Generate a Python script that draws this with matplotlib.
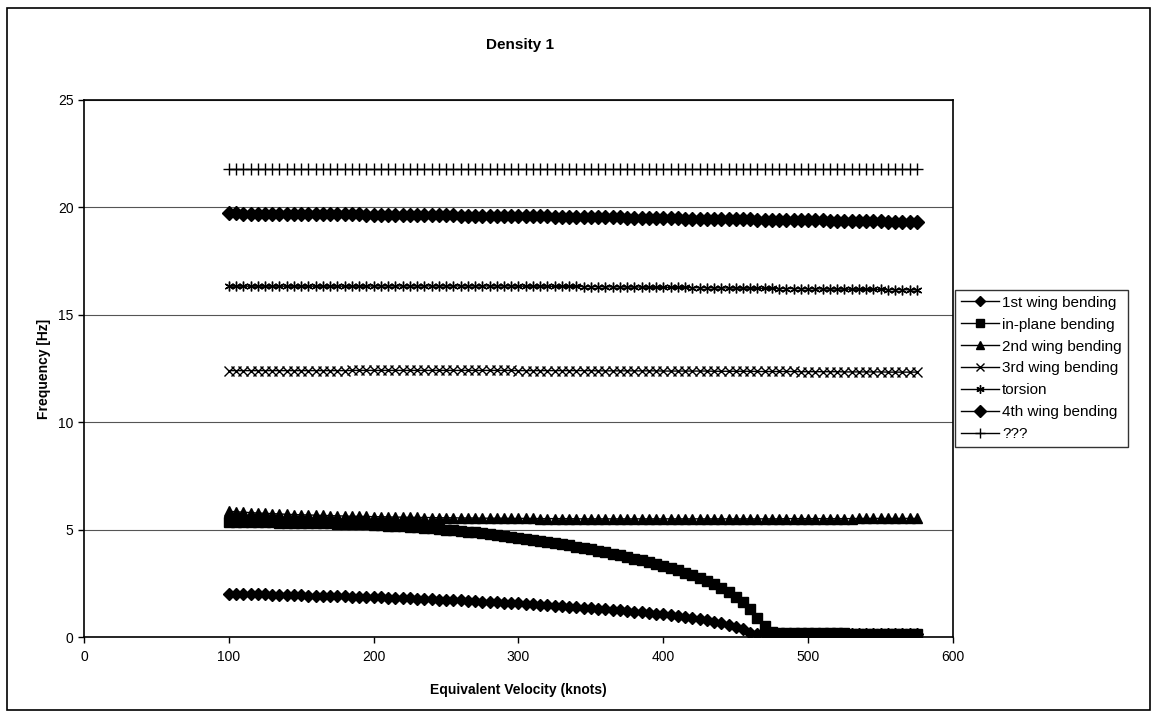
import numpy as np
import matplotlib
matplotlib.use("Agg")
import matplotlib.pyplot as plt
from matplotlib.patches import Rectangle

plt.rcParams['font.family'] = ['Liberation Sans', 'DejaVu Sans']

# velocities 100..575 knots, step 5
velocity = list(range(100, 580, 5))

first_wing = [2.00, 2.00, 1.99, 1.99, 1.98, 1.98, 1.97, 1.96, 1.96, 1.95,
              1.94, 1.93, 1.93, 1.92, 1.91, 1.90, 1.89, 1.88, 1.87, 1.86,
              1.85, 1.84, 1.83, 1.82, 1.81, 1.80, 1.78, 1.77, 1.76, 1.74,
              1.73, 1.71, 1.70, 1.68, 1.67, 1.65, 1.63, 1.62, 1.60, 1.58,
              1.56, 1.54, 1.52, 1.50, 1.48, 1.46, 1.44, 1.41, 1.39, 1.36,
              1.34, 1.31, 1.29, 1.26, 1.24, 1.21, 1.18, 1.15, 1.12, 1.09,
              1.05, 1.01, 0.97, 0.92, 0.88, 0.83, 0.78, 0.72, 0.66, 0.58,
              0.48, 0.35, 0.20, 0.12, 0.14, 0.15, 0.15, 0.15, 0.15, 0.15,
              0.15, 0.15, 0.14, 0.14, 0.14, 0.14, 0.14, 0.14, 0.14, 0.13,
              0.13, 0.13, 0.13, 0.13, 0.13, 0.13]

in_plane = [5.35, 5.35, 5.35, 5.35, 5.34, 5.34, 5.34, 5.33, 5.33, 5.32,
            5.32, 5.31, 5.30, 5.30, 5.29, 5.28, 5.27, 5.26, 5.25, 5.24,
            5.22, 5.21, 5.19, 5.17, 5.15, 5.13, 5.11, 5.08, 5.06, 5.03,
            5.00, 4.97, 4.94, 4.90, 4.87, 4.83, 4.79, 4.75, 4.71, 4.67,
            4.62, 4.58, 4.53, 4.48, 4.43, 4.38, 4.32, 4.26, 4.21, 4.15,
            4.08, 4.02, 3.95, 3.88, 3.81, 3.73, 3.65, 3.57, 3.49, 3.40,
            3.31, 3.21, 3.11, 3.00, 2.88, 2.75, 2.61, 2.46, 2.29, 2.10,
            1.88, 1.62, 1.30, 0.90, 0.50, 0.25, 0.20, 0.19, 0.19, 0.18,
            0.18, 0.18, 0.17, 0.17, 0.17, 0.17, 0.16, 0.16, 0.16, 0.16,
            0.15, 0.15, 0.15, 0.15, 0.15, 0.15]

second_wing = [5.85, 5.83, 5.81, 5.79, 5.77, 5.76, 5.74, 5.73, 5.71, 5.70,
               5.69, 5.68, 5.67, 5.66, 5.65, 5.64, 5.63, 5.62, 5.62, 5.61,
               5.60, 5.60, 5.59, 5.58, 5.58, 5.57, 5.57, 5.56, 5.56, 5.55,
               5.55, 5.55, 5.54, 5.54, 5.54, 5.53, 5.53, 5.53, 5.53, 5.52,
               5.52, 5.52, 5.52, 5.51, 5.51, 5.51, 5.51, 5.51, 5.50, 5.50,
               5.50, 5.50, 5.50, 5.50, 5.50, 5.50, 5.50, 5.50, 5.50, 5.50,
               5.50, 5.50, 5.50, 5.50, 5.50, 5.50, 5.50, 5.50, 5.50, 5.50,
               5.50, 5.50, 5.50, 5.50, 5.50, 5.50, 5.50, 5.51, 5.51, 5.51,
               5.51, 5.51, 5.51, 5.51, 5.51, 5.51, 5.51, 5.52, 5.52, 5.52,
               5.52, 5.52, 5.52, 5.52, 5.52, 5.52]

third_wing = [12.40, 12.40, 12.40, 12.40, 12.40, 12.40, 12.40, 12.40, 12.40, 12.40,
              12.40, 12.40, 12.40, 12.40, 12.40, 12.40, 12.40, 12.41, 12.41, 12.41,
              12.41, 12.41, 12.41, 12.41, 12.41, 12.41, 12.41, 12.41, 12.41, 12.41,
              12.41, 12.41, 12.41, 12.41, 12.41, 12.41, 12.41, 12.41, 12.41, 12.41,
              12.40, 12.40, 12.40, 12.40, 12.40, 12.40, 12.40, 12.40, 12.40, 12.40,
              12.40, 12.39, 12.39, 12.39, 12.39, 12.39, 12.39, 12.39, 12.39, 12.39,
              12.38, 12.38, 12.38, 12.38, 12.38, 12.38, 12.38, 12.37, 12.37, 12.37,
              12.37, 12.37, 12.37, 12.36, 12.36, 12.36, 12.36, 12.36, 12.36, 12.35,
              12.35, 12.35, 12.35, 12.35, 12.35, 12.34, 12.34, 12.34, 12.34, 12.34,
              12.34, 12.33, 12.33, 12.33, 12.33, 12.33]

torsion = [16.33, 16.33, 16.33, 16.33, 16.33, 16.33, 16.33, 16.33, 16.33, 16.33,
           16.33, 16.33, 16.33, 16.33, 16.33, 16.33, 16.33, 16.33, 16.33, 16.33,
           16.34, 16.34, 16.34, 16.34, 16.34, 16.34, 16.34, 16.34, 16.34, 16.34,
           16.34, 16.34, 16.34, 16.34, 16.34, 16.34, 16.34, 16.34, 16.34, 16.34,
           16.33, 16.33, 16.33, 16.33, 16.33, 16.32, 16.32, 16.32, 16.32, 16.31,
           16.31, 16.31, 16.30, 16.30, 16.30, 16.29, 16.29, 16.29, 16.28, 16.28,
           16.28, 16.27, 16.27, 16.27, 16.26, 16.26, 16.26, 16.25, 16.25, 16.25,
           16.24, 16.24, 16.24, 16.23, 16.23, 16.23, 16.22, 16.22, 16.22, 16.21,
           16.21, 16.21, 16.20, 16.20, 16.20, 16.19, 16.19, 16.19, 16.18, 16.18,
           16.18, 16.17, 16.17, 16.17, 16.16, 16.16]

fourth_wing = [19.72, 19.72, 19.71, 19.71, 19.71, 19.70, 19.70, 19.70, 19.69, 19.69,
               19.69, 19.69, 19.68, 19.68, 19.68, 19.68, 19.67, 19.67, 19.67, 19.66,
               19.66, 19.66, 19.66, 19.65, 19.65, 19.65, 19.64, 19.64, 19.64, 19.63,
               19.63, 19.63, 19.62, 19.62, 19.62, 19.61, 19.61, 19.60, 19.60, 19.60,
               19.59, 19.59, 19.58, 19.58, 19.58, 19.57, 19.57, 19.56, 19.56, 19.55,
               19.55, 19.54, 19.54, 19.53, 19.53, 19.52, 19.52, 19.51, 19.51, 19.50,
               19.50, 19.49, 19.49, 19.48, 19.48, 19.47, 19.47, 19.46, 19.46, 19.45,
               19.45, 19.44, 19.44, 19.43, 19.43, 19.42, 19.42, 19.41, 19.41, 19.40,
               19.40, 19.39, 19.39, 19.38, 19.38, 19.37, 19.37, 19.36, 19.36, 19.35,
               19.35, 19.34, 19.33, 19.32, 19.31, 19.30]

unknown = [21.80, 21.80, 21.80, 21.80, 21.80, 21.80, 21.80, 21.80, 21.80, 21.80,
           21.80, 21.80, 21.80, 21.80, 21.80, 21.80, 21.80, 21.80, 21.80, 21.80,
           21.80, 21.80, 21.80, 21.80, 21.80, 21.80, 21.80, 21.80, 21.80, 21.80,
           21.80, 21.80, 21.80, 21.80, 21.80, 21.80, 21.80, 21.80, 21.80, 21.80,
           21.80, 21.80, 21.80, 21.80, 21.80, 21.80, 21.80, 21.80, 21.80, 21.80,
           21.80, 21.80, 21.80, 21.80, 21.80, 21.80, 21.80, 21.80, 21.80, 21.80,
           21.80, 21.80, 21.80, 21.80, 21.80, 21.80, 21.80, 21.80, 21.80, 21.80,
           21.80, 21.80, 21.80, 21.80, 21.80, 21.80, 21.80, 21.80, 21.80, 21.80,
           21.80, 21.80, 21.80, 21.80, 21.80, 21.80, 21.80, 21.80, 21.80, 21.80,
           21.80, 21.80, 21.80, 21.80, 21.80, 21.80]

labels = ['1st wing bending', 'in-plane bending', '2nd wing bending',
          '3rd wing bending', 'torsion', '4th wing bending', '???']
series = [first_wing, in_plane, second_wing, third_wing, torsion, fourth_wing, unknown]
markers = ['D', 's', '^', 'x', (6, 2, 0), 'D', '+']
sizes = [6, 7, 7, 7, 7, 7.5, 8]

fig = plt.figure(figsize=(11.58, 7.18), dpi=100)
ax = fig.add_axes([0.0725, 0.1128, 0.7505, 0.748])

for y, lab, m, s in zip(series, labels, markers, sizes):
    ax.plot(velocity, y, color='black', linewidth=1, marker=m, markersize=s,
            markeredgewidth=1, markerfacecolor='black', markeredgecolor='black',
            label=lab)

ax.set_xlim(0, 600)
ax.set_ylim(0, 25)
ax.set_xticks([0, 100, 200, 300, 400, 500, 600])
ax.set_yticks([0, 5, 10, 15, 20, 25])
ax.yaxis.grid(True, color='#555555', linewidth=0.8)
ax.set_axisbelow(True)
for sp in ax.spines.values():
    sp.set_linewidth(1.2)
ax.tick_params(direction='out', length=4, width=1, labelsize=10)
ax.tick_params(axis='x', pad=5)

ax.set_xlabel('Equivalent Velocity (knots)', fontsize=10, fontweight='bold', labelpad=14)
ax.set_ylabel('Frequency [Hz]', fontsize=10, fontweight='bold', labelpad=5)
fig.text(0.449, 0.937, 'Density 1', fontsize=11, fontweight='bold', ha='center', va='center')

leg = ax.legend(loc='center left', bbox_to_anchor=(1.002, 0.5), fontsize=11,
                frameon=True, fancybox=False, edgecolor='black', borderpad=0.4,
                labelspacing=0.52, handlelength=2.5, handletextpad=0.2,
                borderaxespad=0, markerscale=0.85)
leg.get_frame().set_linewidth(1)

fig.patches.append(Rectangle((0.006, 0.011), 0.987, 0.978, transform=fig.transFigure,
                             fill=False, edgecolor='black', linewidth=1.2))

fig.savefig('out.png', dpi=100)
